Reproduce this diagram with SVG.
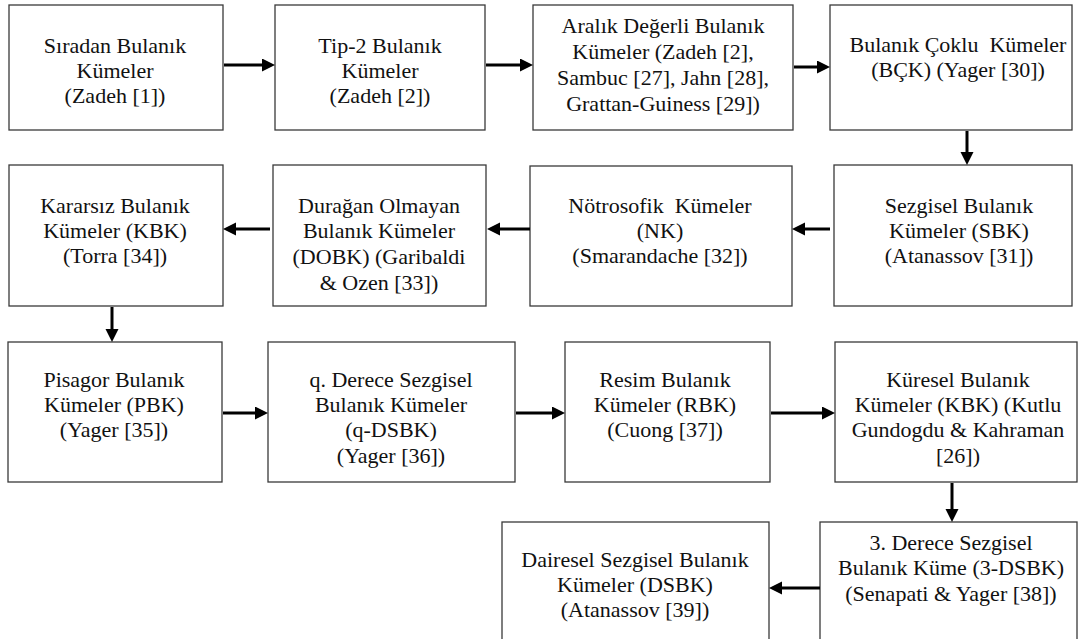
<svg xmlns="http://www.w3.org/2000/svg" width="1078" height="639" viewBox="0 0 1078 639">
<defs>
<style>
.box{fill:#fff;stroke:#3a3a3a;stroke-width:1.3}
.t{font-family:'Liberation Serif','Times New Roman',serif;font-size:22px;fill:#111;text-anchor:middle}
.c{stroke:#000;stroke-width:3;fill:none}
</style>
<marker id="ah" markerUnits="userSpaceOnUse" markerWidth="14" markerHeight="14" refX="2" refY="6.5" orient="auto">
<path d="M0,0 L13,6.5 L0,13 z" fill="#000"/>
</marker>
</defs>
<rect width="1078" height="639" fill="#fff"/>
<g id="n1"><rect class="box" x="9" y="5" width="214" height="125"/>
<text class="t" x="115" y="53">Sıradan Bulanık</text><text class="t" x="115" y="78">Kümeler</text><text class="t" x="115" y="103">(Zadeh [1])</text></g>
<g id="n2"><rect class="box" x="275" y="5" width="210" height="125"/>
<text class="t" x="380" y="53">Tip-2 Bulanık</text><text class="t" x="380" y="78">Kümeler</text><text class="t" x="380" y="103">(Zadeh [2])</text></g>
<g id="n3"><rect class="box" x="533" y="5" width="260" height="125"/>
<text class="t" x="663" y="33">Aralık Değerli Bulanık</text><text class="t" x="663" y="59">Kümeler (Zadeh [2],</text><text class="t" x="663" y="85">Sambuc [27], Jahn [28],</text><text class="t" x="663" y="111">Grattan-Guiness [29])</text></g>
<g id="n4"><rect class="box" x="830" y="5" width="242" height="125"/>
<text class="t" x="958" y="52" xml:space="preserve">Bulanık Çoklu  Kümeler</text><text class="t" x="958" y="77">(BÇK) (Yager [30])</text></g>
<g id="n5"><rect class="box" x="9" y="165" width="214" height="141"/>
<text class="t" x="115" y="213">Kararsız Bulanık</text><text class="t" x="115" y="238">Kümeler (KBK)</text><text class="t" x="115" y="263">(Torra [34])</text></g>
<g id="n6"><rect class="box" x="273" y="165" width="213" height="141"/>
<text class="t" x="379" y="213">Durağan Olmayan</text><text class="t" x="379" y="238">Bulanık Kümeler</text><text class="t" x="379" y="264">(DOBK) (Garibaldi</text><text class="t" x="379" y="290">&amp; Ozen [33])</text></g>
<g id="n7"><rect class="box" x="530" y="166" width="262" height="140"/>
<text class="t" x="660" y="213" xml:space="preserve">Nötrosofik  Kümeler</text><text class="t" x="660" y="238">(NK)</text><text class="t" x="660" y="263">(Smarandache [32])</text></g>
<g id="n8"><rect class="box" x="834" y="165" width="238" height="141"/>
<text class="t" x="959" y="213">Sezgisel Bulanık</text><text class="t" x="959" y="238">Kümeler (SBK)</text><text class="t" x="959" y="263">(Atanassov [31])</text></g>
<g id="n9"><rect class="box" x="8" y="342" width="214" height="140"/>
<text class="t" x="114" y="387">Pisagor Bulanık</text><text class="t" x="114" y="412">Kümeler (PBK)</text><text class="t" x="114" y="437">(Yager [35])</text></g>
<g id="n10"><rect class="box" x="268" y="342" width="247" height="140"/>
<text class="t" x="391" y="387">q. Derece Sezgisel</text><text class="t" x="391" y="412">Bulanık Kümeler</text><text class="t" x="391" y="437">(q-DSBK)</text><text class="t" x="391" y="463">(Yager [36])</text></g>
<g id="n11"><rect class="box" x="565" y="342" width="205" height="140"/>
<text class="t" x="665" y="387">Resim Bulanık</text><text class="t" x="665" y="412">Kümeler (RBK)</text><text class="t" x="665" y="437">(Cuong [37])</text></g>
<g id="n12"><rect class="box" x="835" y="342" width="242" height="140"/>
<text class="t" x="958" y="387">Küresel Bulanık</text><text class="t" x="958" y="412">Kümeler (KBK) (Kutlu</text><text class="t" x="958" y="437">Gundogdu &amp; Kahraman</text><text class="t" x="958" y="463">[26])</text></g>
<g id="n13"><rect class="box" x="502" y="522" width="267" height="125"/>
<text class="t" x="635" y="567">Dairesel Sezgisel Bulanık</text><text class="t" x="635" y="592">Kümeler (DSBK)</text><text class="t" x="635" y="617">(Atanassov [39])</text></g>
<g id="n14"><rect class="box" x="820" y="522" width="257" height="125"/>
<text class="t" x="951" y="550">3. Derece Sezgisel</text><text class="t" x="951" y="575">Bulanık Küme (3-DSBK)</text><text class="t" x="951" y="601">(Senapati &amp; Yager [38])</text></g>
<g id="connectors">
<line class="c" x1="224" y1="65" x2="264" y2="65" marker-end="url(#ah)"/>
<line class="c" x1="486" y1="65" x2="522" y2="65" marker-end="url(#ah)"/>
<line class="c" x1="794" y1="67" x2="819" y2="67" marker-end="url(#ah)"/>
<line class="c" x1="967" y1="131" x2="967" y2="154" marker-end="url(#ah)"/>
<line class="c" x1="830" y1="229" x2="803" y2="229" marker-end="url(#ah)"/>
<line class="c" x1="530" y1="229" x2="498" y2="229" marker-end="url(#ah)"/>
<line class="c" x1="270" y1="229" x2="234" y2="229" marker-end="url(#ah)"/>
<line class="c" x1="112" y1="307" x2="112" y2="331" marker-end="url(#ah)"/>
<line class="c" x1="223" y1="413" x2="257" y2="413" marker-end="url(#ah)"/>
<line class="c" x1="516" y1="413" x2="554" y2="413" marker-end="url(#ah)"/>
<line class="c" x1="771" y1="413" x2="824" y2="413" marker-end="url(#ah)"/>
<line class="c" x1="952" y1="483" x2="952" y2="511" marker-end="url(#ah)"/>
<line class="c" x1="820" y1="588" x2="780" y2="588" marker-end="url(#ah)"/>
</g>
</svg>
